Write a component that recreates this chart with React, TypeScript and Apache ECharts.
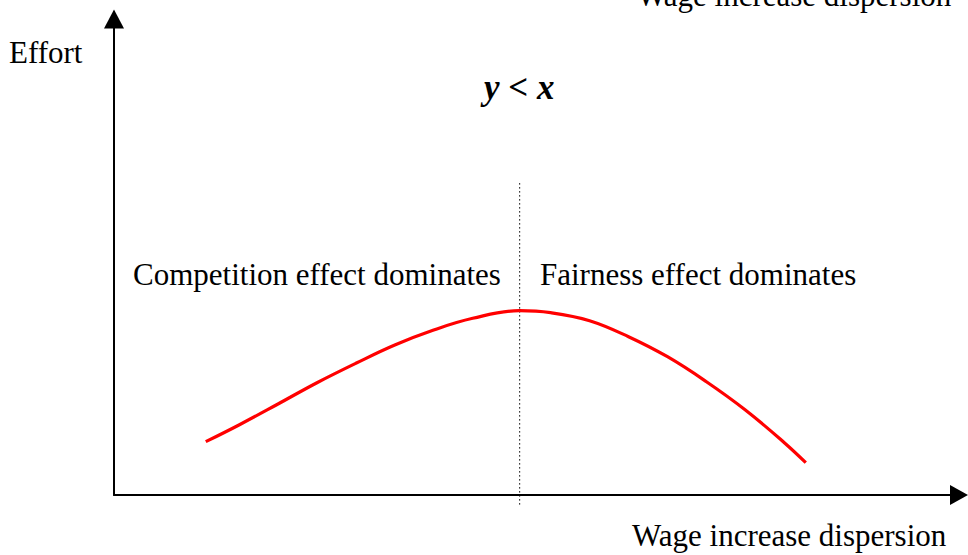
import React, { useEffect, useRef } from "react";
import * as echarts from "echarts";

// Effort curve: x = wage increase dispersion, y = effort (arbitrary units)
const curveX = [10.86, 14.79, 19.41, 24.02, 28.62, 33.23, 37.83, 42.45, 47.98, 51.67, 56.28, 60.89, 65.5, 70.11, 74.72, 79.33, 81.87];
const curveY = [11.2, 14.71, 19.12, 23.59, 27.67, 31.51, 34.66, 37.12, 38.72, 38.3, 36.62, 33.26, 29.05, 23.8, 17.86, 10.99, 6.79];

// Dotted divider at the peak
const dividerX = [48.0, 48.0];
const dividerY = [65.5, -2.5];

const axisName = "Wage increase dispersion";
const yName = "Effort";
const conditionLabel = "y < x";
const leftRegion = "Competition effect dominates";
const rightRegion = "Fairness effect dominates";

const FONT = '"Liberation Serif", "Times New Roman", serif';

export default function App() {
  const ref = useRef<HTMLDivElement>(null);
  useEffect(() => {
    if (!ref.current) return;
    const chart = echarts.init(ref.current, undefined, { renderer: "svg" });
    const textStyle = (size: number, extra: any = {}) => ({
      fontFamily: FONT,
      fontSize: size,
      fill: "#000",
      textAlign: "left",
      textVerticalAlign: "middle",
      ...extra,
    });
    chart.setOption({
      animation: false,
      backgroundColor: "#fff",
      grid: { left: 114, top: 19, right: 9, bottom: 60, containLabel: false },
      xAxis: {
        type: "value",
        min: 0,
        max: 100,
        axisLine: {
          show: true,
          onZero: false,
          symbol: ["none", "triangle"],
          symbolSize: [20, 18],
          lineStyle: { color: "#000", width: 2 },
        },
        axisTick: { show: false },
        axisLabel: { show: false },
        splitLine: { show: false },
      },
      yAxis: {
        type: "value",
        min: 0,
        max: 100,
        axisLine: {
          show: true,
          onZero: false,
          symbol: ["none", "triangle"],
          symbolSize: [20, 19],
          lineStyle: { color: "#000", width: 2 },
        },
        axisTick: { show: false },
        axisLabel: { show: false },
        splitLine: { show: false },
      },
      series: [
        {
          type: "line",
          data: dividerX.map((x, i) => [x, dividerY[i]]),
          clip: false,
          symbol: "none",
          lineStyle: { color: "#000", width: 1.2, type: [1.3, 2.7] },
          z: 1,
        },
        {
          type: "line",
          data: curveX.map((x, i) => [x, curveY[i]]),
          smooth: 0.4,
          symbol: "none",
          lineStyle: { color: "#ff0000", width: 3.2 },
          z: 2,
        },
      ],
      graphic: [
        { type: "text", x: 9, y: 52.5, style: { text: yName, ...textStyle(31) } },
        {
          type: "text",
          x: 484,
          y: 87.5,
          style: { text: conditionLabel, ...textStyle(35, { fontStyle: "italic", fontWeight: "bold" }) },
        },
        { type: "text", x: 133, y: 274.5, style: { text: leftRegion, ...textStyle(31) } },
        { type: "text", x: 540, y: 274.5, style: { text: rightRegion, ...textStyle(31) } },
        { type: "text", x: 632, y: 535.5, style: { text: axisName, ...textStyle(31) } },
        { type: "text", x: 637, y: -4.5, style: { text: axisName, ...textStyle(31) } },
      ],
    });
    return () => chart.dispose();
  }, []);
  return (
    <div
      ref={ref}
      style={{ position: "absolute", left: 0, top: 0, width: 968, height: 555, background: "#fff" }}
    />
  );
}
